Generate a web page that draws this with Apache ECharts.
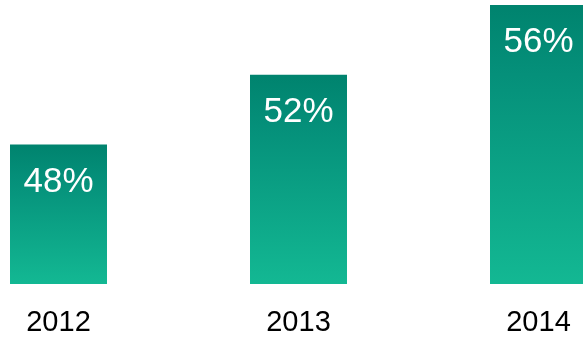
<!DOCTYPE html>
<html>
<head>
<meta charset="utf-8">
<script src="https://cdn.jsdelivr.net/npm/echarts@6/dist/echarts.min.js"></script>
<style>
  html, body { margin: 0; padding: 0; background: #fff; }
  #chart { width: 583px; height: 337px; }
</style>
</head>
<body>
<div id="chart"></div>
<script>
// Yearly share, in percent
const years = ['2012', '2013', '2014'];
const shares = [48, 52, 56];

const chart = echarts.init(document.getElementById('chart'), null, { renderer: 'canvas' });

const barFill = new echarts.graphic.LinearGradient(0, 0, 0, 1, [
  { offset: 0, color: '#00836e' },
  { offset: 0.25, color: '#05907a' },
  { offset: 1, color: '#13b893' }
]);

chart.setOption({
  animation: false,
  grid: {
    left: -61.5, width: 720, top: 5, bottom: 53,
    containLabel: false,
    outerBoundsMode: 'none'
  },
  xAxis: {
    type: 'category',
    data: years,
    axisLine: { show: false },
    axisTick: { show: false },
    axisLabel: {
      color: '#000',
      fontFamily: 'Liberation Sans, Arial, sans-serif',
      fontSize: 29,
      margin: 24
    }
  },
  yAxis: {
    type: 'value',
    min: 40,
    max: 56,
    show: false,
    splitLine: { show: false }
  },
  series: [{
    type: 'bar',
    data: shares,
    barWidth: 97,
    itemStyle: { color: barFill },
    label: {
      show: true,
      position: 'insideTop',
      distance: 20,
      color: '#fff',
      fontFamily: 'Liberation Sans, Arial, sans-serif',
      fontSize: 35,
      formatter: p => p.value + '%'
    }
  }]
});
</script>
</body>
</html>
